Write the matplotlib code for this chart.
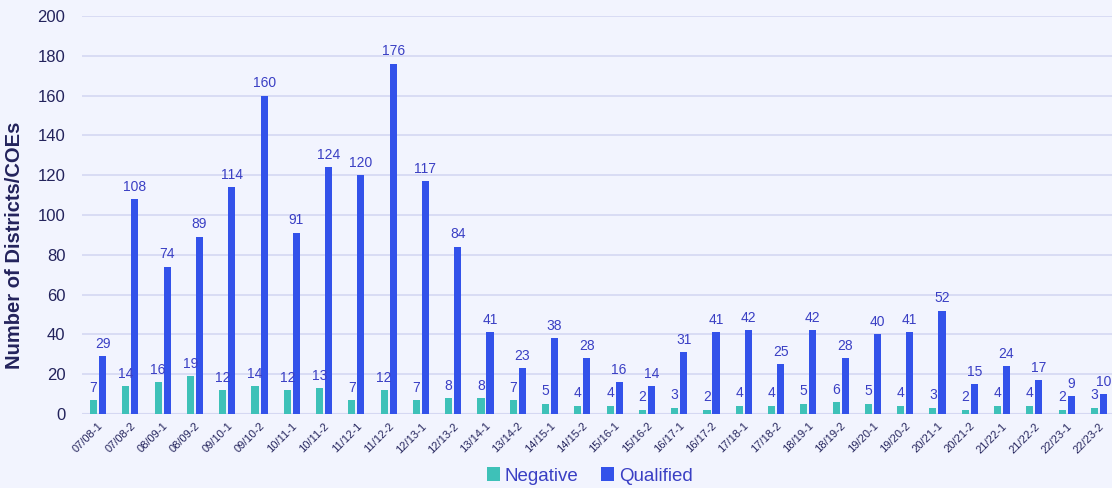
import matplotlib
matplotlib.use("Agg")
import matplotlib.pyplot as plt
import numpy as np

plt.rcParams['font.family'] = ['Liberation Sans', 'DejaVu Sans']

categories = ["07/08-1", "07/08-2", "08/09-1", "08/09-2", "09/10-1", "09/10-2", "10/11-1", "10/11-2",
              "11/12-1", "11/12-2", "12/13-1", "12/13-2", "13/14-1", "13/14-2", "14/15-1", "14/15-2",
              "15/16-1", "15/16-2", "16/17-1", "16/17-2", "17/18-1", "17/18-2", "18/19-1", "18/19-2",
              "19/20-1", "19/20-2", "20/21-1", "20/21-2", "21/22-1", "21/22-2", "22/23-1", "22/23-2"]
negative = [7, 14, 16, 19, 12, 14, 12, 13, 7, 12, 7, 8, 8, 7, 5, 4,
            4, 2, 3, 2, 4, 4, 5, 6, 5, 4, 3, 2, 4, 4, 2, 3]
qualified = [29, 108, 74, 89, 114, 160, 91, 124, 120, 176, 117, 84, 41, 23, 38, 28,
             16, 14, 31, 41, 42, 25, 42, 28, 40, 41, 52, 15, 24, 17, 9, 10]
yticks = [0, 20, 40, 60, 80, 100, 120, 140, 160, 180, 200]

bg = '#F2F4FE'
teal = '#3EC1B8'
blue = '#3352EA'
label_col = '#3A3FC4'
dark = '#23235C'

fig = plt.figure(figsize=(11.12, 4.88), dpi=100, facecolor=bg)
W, H = 1112, 488
left, right = 82, 1115
top, bottom = 16, 414
ax = fig.add_axes([left / W, 1 - bottom / H, (right - left) / W, (bottom - top) / H])
ax.set_facecolor(bg)

x = np.arange(len(categories))
bw = 0.22
off = 0.14
b1 = ax.bar(x - off, negative, bw, color=teal, zorder=3)
b2 = ax.bar(x + off, qualified, bw, color=blue, zorder=3)
for rects, vals in ((b1, negative), (b2, qualified)):
    for r, v in zip(rects, vals):
        ax.annotate(str(v), (r.get_x() + r.get_width() / 2, v), xytext=(0, 4),
                    textcoords='offset points', ha='center', va='bottom',
                    fontsize=10, color=label_col, annotation_clip=False)

ax.set_xlim(-0.5, len(categories) - 0.5)
ax.set_ylim(0, 200)
ax.set_yticks(yticks)
ax.set_yticklabels([str(t) for t in yticks], fontsize=12, color=dark)
ax.set_xticks(x)
ax.set_xticklabels(categories, rotation=45, ha='right', rotation_mode='anchor',
                   fontsize=8, color=dark)
ax.tick_params(axis='both', length=0)
ax.tick_params(axis='y', pad=12)
ax.tick_params(axis='x', pad=5)
ax.grid(axis='y', color='#D5D8F2', linewidth=1.2, zorder=0)
for s in ax.spines.values():
    s.set_visible(False)
ax.axhline(0, color='#D5D8F2', linewidth=1.5, zorder=2)

ax.set_ylabel('Number of Districts/COEs', fontsize=14.5, fontweight='bold', color=dark)
ax.yaxis.set_label_coords((15 - left) / (right - left), (bottom - 245) / (bottom - top))
ax.yaxis.label.set_va('center')

leg = fig.legend([b1, b2], ['Negative', 'Qualified'], loc='center', bbox_to_anchor=(590 / W, 1 - 476 / H),
                 ncol=2, frameon=False, fontsize=13.5, handlelength=0.7, handleheight=0.7,
                 handletextpad=0.25, columnspacing=1.2)
for t in leg.get_texts():
    t.set_color(label_col)

fig.savefig('out.png', dpi=100, facecolor=bg)
